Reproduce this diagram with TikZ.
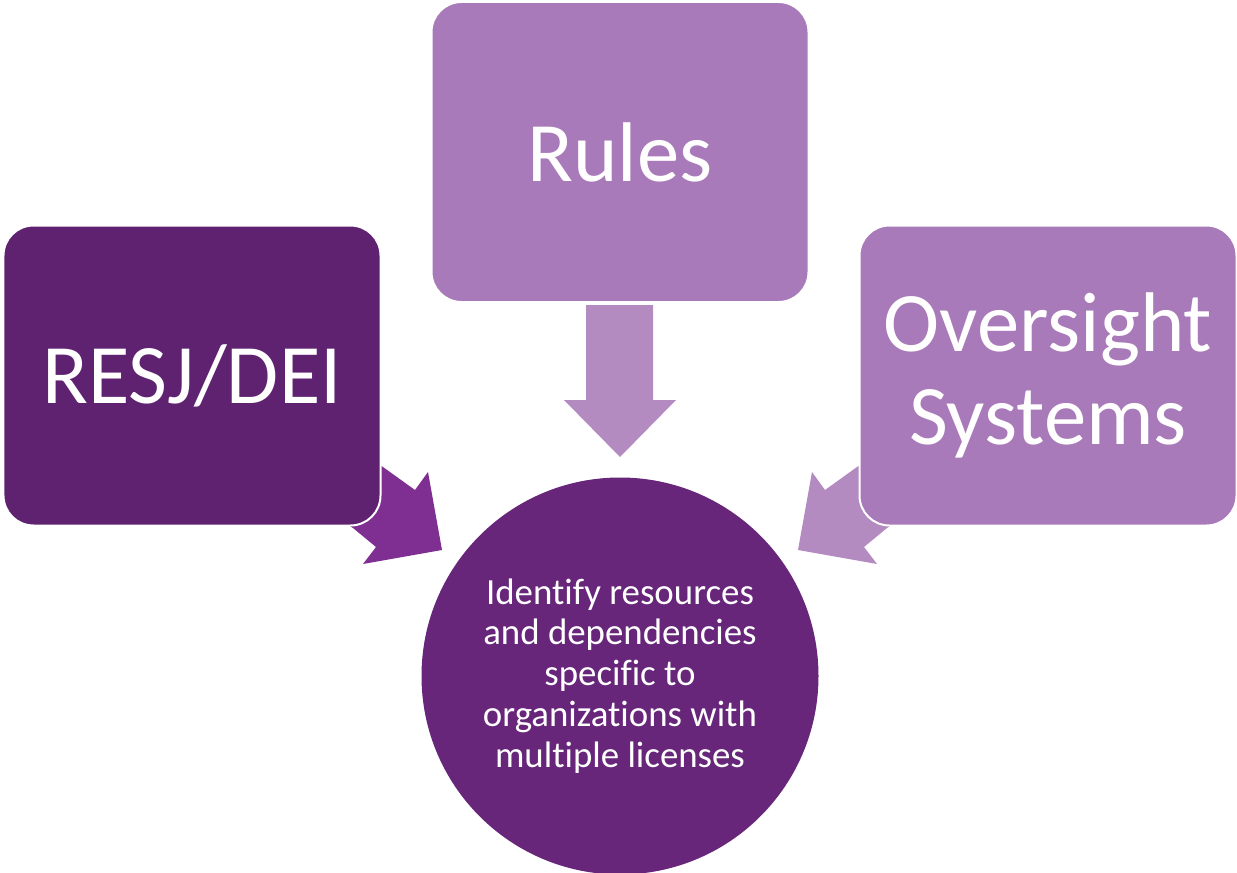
\documentclass[tikz,border=0pt]{standalone}
\usepackage{fontspec}
\setmainfont{Carlito}
\definecolor{darkp}{HTML}{5F2270}
\definecolor{lightp}{HTML}{A97AB9}
\definecolor{circp}{HTML}{67267A}
\definecolor{arrowlight}{HTML}{B48BC0}
\definecolor{arrowdark}{HTML}{7F2F92}
\begin{document}
\begin{tikzpicture}[x=1bp,y=-1bp,
  box/.style={draw=white,line width=2bp,rounded corners=30bp,minimum width=377bp,minimum height=300bp,text=white,align=center,font=\fontsize{85}{94}\selectfont},
  blockarrow/.style={draw=none}]
\useasboundingbox (0,0) rectangle (1237,873);
% arrows (under boxes)
\fill[arrowdark] (353,528) -- (376,547) -- (363,564) -- (442,550) -- (428,472) -- (415,490) -- (383,467) -- (340,440) -- (310,500) -- cycle;
\fill[arrowlight] (887,528) -- (864,547) -- (877,564) -- (798,550) -- (812,472) -- (825,490) -- (857,467) -- (900,440) -- (930,500) -- cycle;
\fill[arrowlight] (586,305) -- (653,305) -- (653,400) -- (676,400) -- (620,457) -- (564,400) -- (586,400) -- cycle;
% boxes
\node[box,fill=darkp] (resj) at (192,375.5) {RESJ/DEI};
\node[box,fill=lightp] (rules) at (620,152) {Rules};
\node[box,fill=lightp] (over) at (1048,375.5) {Oversight\\Systems};
% circle
\node[circle,fill=circp,minimum size=397bp,text=white,align=center,inner sep=0pt,font=\fontsize{37}{41}\selectfont\addfontfeatures{Ligatures=NoCommon}] (goal) at (620,676) {Identify resources\\and dependencies\\specific to\\organizations with\\multiple licenses};
\end{tikzpicture}
\end{document}
